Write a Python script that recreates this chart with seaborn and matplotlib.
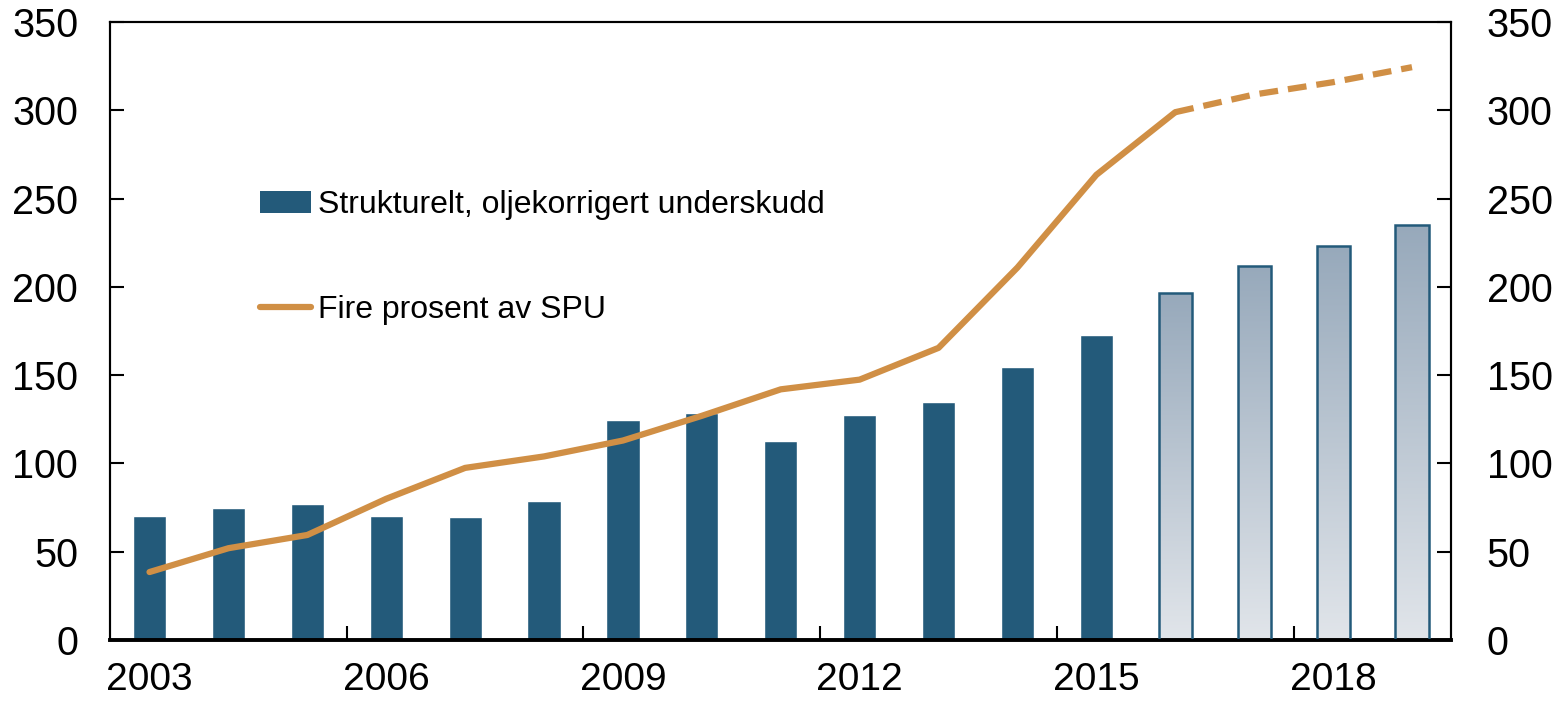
import matplotlib
matplotlib.use("Agg")
import matplotlib.pyplot as plt
from matplotlib.patches import Patch
from matplotlib.lines import Line2D
import numpy as np
import pandas as pd
import seaborn as sns

years = list(range(2003, 2020))
underskudd = [70, 75, 77, 70, 69.5, 78.5, 124.5, 128.5, 113, 127.5, 135, 154.5, 172.5,
              196.5, 212, 223, 235]
fire_prosent = [38.5, 52, 59.5, 80, 97.5, 104, 113, 127, 142, 147.5, 165.5, 211, 263.5,
                299, 309, 316, 324.5]
first_projection = 2016
bar_label = "Strukturelt, oljekorrigert underskudd"
line_label = "Fire prosent av SPU"

bar_color = "#235a7a"
line_color = "#d08f45"

sns.set_style("white")
plt.rcParams["font.family"] = ["Liberation Sans", "DejaVu Sans"]
plt.rcParams["text.color"] = "black"
plt.rcParams["xtick.color"] = "black"
plt.rcParams["ytick.color"] = "black"

df = pd.DataFrame({"year": years, "underskudd": underskudd, "fire": fire_prosent})

fig = plt.figure(figsize=(15.59, 7.01), dpi=100)
ax = fig.add_axes([0.0706, 0.087, 0.8604, 0.8814])

sns.barplot(data=df, x="year", y="underskudd", native_scale=True, width=0.42,
            color=bar_color, saturation=1, ax=ax, zorder=2)

# projection years: gradient filled bars with dark outline
grad = np.linspace(0, 1, 256).reshape(-1, 1)
cmap = matplotlib.colors.LinearSegmentedColormap.from_list("g", ["#e1e5ea", "#97a9bb"])
for patch, yr in zip(ax.patches, years):
    if yr >= first_projection:
        x0, y0 = patch.get_x(), patch.get_y()
        w, h = patch.get_width(), patch.get_height()
        patch.set_facecolor("none")
        patch.set_edgecolor(bar_color)
        patch.set_linewidth(1.8)
        patch.set_zorder(3)
        im = ax.imshow(grad, extent=[x0, x0 + w, y0, y0 + h], origin="lower", cmap=cmap,
                       aspect="auto", zorder=2)
        im.set_clip_path(patch)

hist = df[df["year"] <= first_projection]
proj = df[df["year"] >= first_projection]
sns.lineplot(data=hist, x="year", y="fire", color=line_color, lw=4.5, ax=ax, zorder=4)
sns.lineplot(data=proj, x="year", y="fire", color=line_color, lw=4.5, ax=ax, zorder=4,
             linestyle=(0, (3, 1.6)))

ax.set_xlim(2002.5, 2019.5)
ax.set_ylim(0, 350)
ax.set_xlabel("")
ax.set_ylabel("")
ax.set_yticks(range(0, 351, 50))
ax.set_xticks(years[::3])
ax.set_xticks([y + 0.5 for y in years[2:-2:3]], minor=True)
ax.tick_params(axis="x", which="major", bottom=False, labelsize=28, pad=12)
ax.tick_params(axis="x", which="minor", bottom=True, direction="in", length=10, width=1.5)
ax.tick_params(axis="y", left=True, direction="in", length=10, width=1.5, labelsize=28.5, pad=23)

ax2 = ax.twinx()
ax2.set_ylim(0, 350)
ax2.set_yticks(range(0, 351, 50))
ax2.tick_params(axis="y", right=True, direction="in", length=10, width=1.5, labelsize=28.5, pad=25.5)

for a in (ax, ax2):
    for s in a.spines.values():
        s.set_visible(True)
        s.set_color("black")
        s.set_linewidth(1.5)
ax.spines["bottom"].set_linewidth(2.8)

handles = [Patch(facecolor=bar_color, edgecolor="none"),
           Line2D([0], [0], color=line_color, lw=4.5)]
ax.legend(handles, [bar_label, line_label], loc="upper left",
          bbox_to_anchor=(0.1, 0.754), frameon=False, fontsize=23,
          labelspacing=2.35, handlelength=1.6, handletextpad=0.2, borderpad=0)

fig.savefig("out.png", dpi=100)
